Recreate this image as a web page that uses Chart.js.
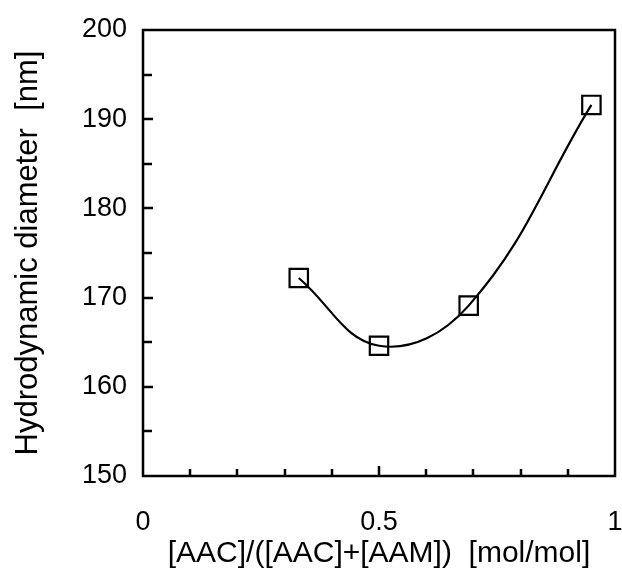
<!DOCTYPE html>
<html>
<head>
<meta charset="utf-8">
<script src="https://cdn.jsdelivr.net/npm/chart.js@4/dist/chart.umd.min.js"></script>
<style>
  html, body { margin: 0; padding: 0; background: #fff; }
  canvas { display: block; }
</style>
</head>
<body>
<canvas id="chart" width="622" height="576"></canvas>
<script>
// values
var ratio = [0.33, 0.5, 0.69, 0.95];
var diameter = [172.2, 164.6, 169.1, 191.6];

var xTicks = [0, 0.5, 1];
var yTicks = [150, 160, 170, 180, 190, 200];

var font = "'Liberation Sans', Arial, sans-serif";

// inward tick marks + box frame, drawn from the scales
var frame = {
  id: 'frame',
  afterDraw: function(chart) {
    var ctx = chart.ctx;
    var a = chart.chartArea;
    var xs = chart.scales.x, ys = chart.scales.y;
    ctx.save();
    ctx.strokeStyle = '#000';
    ctx.lineWidth = 2.5;
    ctx.beginPath();
    for (var v = 155; v < 200; v += 5) {
      var py = Math.round(ys.getPixelForValue(v));
      var len = (v % 10 === 0) ? 10 : 9;
      ctx.moveTo(a.left, py);
      ctx.lineTo(a.left + len, py);
    }
    for (var i = 1; i < 10; i++) {
      var px = Math.round(xs.getPixelForValue(i / 10));
      var l = (i === 5) ? 10 : 7;
      ctx.moveTo(px, a.bottom);
      ctx.lineTo(px, a.bottom - l);
    }
    ctx.stroke();
    ctx.strokeRect(a.left, a.top, a.right - a.left, a.bottom - a.top);
    ctx.restore();
  }
};

var ctx = document.getElementById('chart').getContext('2d');
new Chart(ctx, {
  type: 'line',
  data: {
    datasets: [{
      data: ratio.map(function(r, i) { return {x: r, y: diameter[i]}; }),
      borderColor: '#000',
      borderWidth: 2.2,
      tension: 0.4,
      pointStyle: 'rect',
      pointRadius: 13,
      pointBorderWidth: 2.2,
      pointBorderColor: '#000',
      pointBackgroundColor: 'rgba(0,0,0,0)',
      fill: false
    }]
  },
  options: {
    responsive: false,
    animation: false,
    layout: { autoPadding: false, padding: { top: 30, right: 7, bottom: 4, left: 0 } },
    plugins: { legend: { display: false }, tooltip: { enabled: false } },
    scales: {
      x: {
        type: 'linear',
        min: 0,
        max: 1,
        afterBuildTicks: function(s) { s.ticks = xTicks.map(function(v) { return {value: v}; }); },
        afterFit: function(s) { s.height = 96; s.paddingLeft = 0; s.paddingRight = 0; },
        grid: { display: false, drawTicks: false },
        border: { display: false },
        ticks: {
          padding: 30,
          color: '#000',
          maxRotation: 0,
          font: { family: font, size: 27 },
          callback: function(v) { return String(v); }
        },
        title: {
          display: true,
          text: '[AAC]/([AAC]+[AAM])  [mol/mol]',
          color: '#000',
          font: { family: font, size: 30 },
          padding: { top: 0, bottom: 0 }
        }
      },
      y: {
        type: 'linear',
        min: 150,
        max: 200,
        afterBuildTicks: function(s) { s.ticks = yTicks.map(function(v) { return {value: v}; }); },
        afterFit: function(s) { s.width = 143; s.paddingTop = 0; s.paddingBottom = 0; },
        grid: { display: false, drawTicks: false },
        border: { display: false },
        ticks: {
          padding: 16,
          color: '#000',
          font: { family: font, size: 27 }
        },
        title: {
          display: true,
          text: 'Hydrodynamic diameter  [nm]',
          color: '#000',
          font: { family: font, size: 31 },
          padding: { top: 10, bottom: 0 }
        }
      }
    }
  },
  plugins: [frame]
});
</script>
</body>
</html>
